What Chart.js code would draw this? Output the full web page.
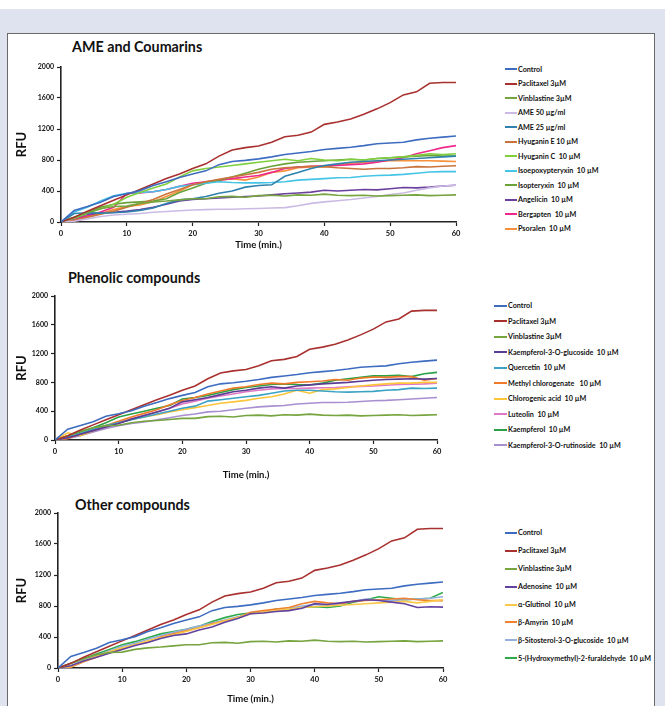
<!DOCTYPE html>
<html>
<head>
<meta charset="utf-8">
<script src="https://cdn.jsdelivr.net/npm/chart.js@4.4.0/dist/chart.umd.min.js"></script>
<style>
body { margin: 0; width: 665px; height: 706px; background: #fff; position: relative; overflow: hidden; font-family: Lato, "Open Sans", sans-serif; }
#band { position: absolute; left: 0; top: 9px; width: 665px; height: 697px; background: #dfe3f0; }
#panel { position: absolute; left: 7px; top: 33px; width: 646px; height: 690px; background: #fff; border: 1px solid #6a6a6a; }
canvas { position: absolute; }
.title { position: absolute; font: bold 14.3px Lato, sans-serif; line-height: 16px; color: #111; white-space: nowrap; }
.legend { position: absolute; font: bold 7.2px Lato, sans-serif; color: #111; }
.legend div { display: flex; align-items: center; white-space: pre; }
.legend .sw { display: inline-block; width: 12px; height: 2px; margin-right: 1px; }
</style>
</head>
<body>
<div id="band"></div>
<div id="panel"></div>

<div class="title" style="left:72px; top:39px;">AME and Coumarins</div>
<canvas id="ame_coumarins" width="472" height="200" style="left:8px; top:57px;"></canvas>
<div class="legend" id="legend1" style="left:505px; top:62px;"></div>

<div class="title" style="left:68px; top:270px;">Phenolic compounds</div>
<canvas id="phenolic" width="455" height="200" style="left:8px; top:286px;"></canvas>
<div class="legend" id="legend2" style="left:494px; top:298px;"></div>

<div class="title" style="left:75px; top:497px;">Other compounds</div>
<canvas id="others" width="460" height="203" style="left:8px; top:503px;"></canvas>
<div class="legend" id="legend3" style="left:505px; top:524px;"></div>

<script>
// time in minutes
const times = [0, 2, 4, 6, 8, 10, 12, 14, 16, 18, 20, 22, 24, 26, 28, 30, 32, 34, 36, 38, 40, 42, 44, 46, 48, 50, 52, 54, 56, 58, 60];

// common series
const control = [0, 150, 200, 255, 330, 365, 405, 470, 520, 575, 620, 660, 740, 780, 795, 815, 840, 870, 890, 910, 935, 950, 965, 985, 1010, 1020, 1030, 1060, 1080, 1095, 1110];
const paclitaxel = [0, 60, 140, 210, 280, 350, 420, 490, 560, 620, 690, 750, 850, 930, 960, 980, 1030, 1100, 1120, 1160, 1260, 1290, 1330, 1390, 1460, 1540, 1640, 1680, 1790, 1800, 1800];
const vinblastine = [0, 60, 120, 170, 200, 205, 240, 260, 270, 285, 300, 300, 325, 330, 320, 340, 345, 335, 350, 345, 360, 345, 340, 345, 335, 340, 345, 350, 340, 345, 350];

// AME and coumarins
const ame50 = [0, 10, 40, 70, 90, 100, 110, 125, 135, 145, 155, 160, 165, 165, 170, 175, 180, 185, 210, 240, 260, 275, 290, 310, 330, 355, 375, 410, 440, 465, 475];
const ame25 = [0, 110, 120, 115, 120, 130, 150, 180, 240, 285, 300, 330, 370, 400, 450, 470, 480, 590, 640, 690, 730, 750, 770, 780, 790, 800, 810, 820, 830, 840, 850];
const hyuganinE = [0, 20, 60, 100, 140, 190, 240, 290, 360, 420, 480, 520, 550, 580, 610, 640, 680, 700, 710, 720, 715, 700, 690, 680, 690, 690, 700, 715, 710, 720, 725];
const hyuganinC = [0, 50, 110, 170, 230, 320, 380, 440, 490, 580, 660, 690, 710, 730, 750, 770, 790, 810, 790, 820, 800, 790, 810, 800, 820, 830, 840, 860, 880, 870, 880];
const isoepoxypteryxin = [0, 130, 190, 270, 340, 370, 380, 390, 420, 460, 480, 500, 520, 510, 505, 505, 510, 520, 540, 550, 560, 570, 575, 590, 600, 605, 615, 630, 645, 650, 650];
const isopteryxin = [0, 60, 130, 190, 230, 250, 260, 270, 300, 380, 440, 500, 540, 580, 630, 680, 720, 750, 770, 780, 790, 800, 810, 800, 820, 830, 840, 850, 860, 850, 850];
const angelicin = [0, 50, 100, 115, 125, 140, 160, 190, 230, 270, 290, 300, 310, 320, 330, 335, 350, 365, 375, 385, 410, 400, 410, 420, 415, 430, 445, 440, 450, 465, 475];
const bergapten = [0, 40, 80, 130, 190, 370, 375, 390, 420, 460, 500, 520, 540, 560, 580, 600, 640, 690, 710, 720, 725, 730, 740, 750, 770, 800, 830, 880, 920, 960, 985];
const psoralen = [0, 30, 70, 110, 160, 200, 220, 260, 330, 400, 480, 510, 540, 560, 540, 580, 640, 660, 700, 710, 710, 740, 760, 770, 780, 790, 790, 790, 790, 785, 780];

// phenolic compounds
const k3glucoside = [0, 30, 80, 130, 180, 230, 290, 340, 390, 440, 530, 560, 590, 630, 670, 690, 720, 740, 720, 750, 765, 780, 790, 800, 815, 830, 840, 845, 850, 845, 855];
const quercetin = [0, 40, 90, 150, 200, 240, 280, 320, 360, 400, 440, 470, 540, 560, 580, 600, 620, 650, 680, 690, 690, 680, 670, 665, 670, 675, 690, 700, 720, 715, 720];
const methylChlorogenate = [0, 20, 80, 140, 200, 260, 320, 370, 420, 490, 550, 590, 640, 680, 720, 740, 770, 790, 780, 800, 810, 820, 840, 830, 860, 875, 870, 880, 880, 830, 855];
const chlorogenicAcid = [0, 100, 60, 130, 190, 240, 290, 320, 350, 390, 420, 450, 480, 510, 530, 550, 580, 600, 640, 690, 650, 700, 710, 730, 750, 765, 780, 790, 790, 800, 800];
const luteolin = [0, 30, 80, 130, 180, 240, 290, 340, 390, 440, 500, 540, 580, 610, 640, 670, 690, 710, 715, 715, 720, 725, 730, 740, 745, 750, 760, 770, 775, 780, 790];
const kaempferol = [0, 50, 110, 170, 240, 320, 360, 400, 440, 480, 570, 590, 620, 660, 700, 730, 750, 770, 780, 770, 765, 790, 830, 850, 870, 890, 890, 900, 880, 920, 940];
const k3rutinoside = [0, 20, 60, 110, 160, 200, 230, 250, 280, 310, 340, 360, 390, 400, 420, 440, 460, 470, 480, 500, 510, 520, 520, 525, 535, 545, 550, 560, 570, 580, 590];

// other compounds
const adenosine = [0, 30, 90, 140, 190, 240, 290, 330, 380, 420, 440, 490, 530, 590, 640, 700, 710, 730, 740, 770, 830, 820, 840, 860, 880, 870, 850, 830, 780, 790, 785];
const glutinol = [0, 20, 90, 150, 210, 260, 300, 350, 390, 430, 470, 520, 560, 610, 650, 700, 720, 740, 760, 780, 790, 800, 810, 820, 830, 840, 850, 860, 840, 860, 880];
const amyrin = [0, 10, 80, 140, 200, 250, 300, 340, 400, 440, 480, 520, 570, 610, 650, 720, 740, 760, 780, 830, 860, 840, 830, 860, 870, 880, 890, 900, 880, 870, 870];
const sitosterol = [0, 30, 100, 160, 220, 280, 320, 370, 420, 460, 500, 540, 580, 620, 660, 700, 720, 740, 770, 800, 820, 800, 830, 860, 890, 880, 870, 880, 890, 900, 920];
const hmf = [0, 60, 120, 180, 240, 300, 340, 390, 440, 470, 500, 540, 600, 650, 690, 710, 720, 760, 750, 780, 790, 780, 800, 850, 880, 920, 900, 880, 890, 900, 975];

const names1 = ['Control', 'Paclitaxel 3µM', 'Vinblastine 3µM', 'AME 50 µg/ml', 'AME 25 µg/ml', 'Hyuganin E 10 µM', 'Hyuganin C  10 µM', 'Isoepoxypteryxin  10 µM', 'Isopteryxin  10 µM', 'Angelicin  10 µM', 'Bergapten  10 µM', 'Psoralen  10 µM'];
const values1 = [control, paclitaxel, vinblastine, ame50, ame25, hyuganinE, hyuganinC, isoepoxypteryxin, isopteryxin, angelicin, bergapten, psoralen];
const colors1 = ['#3d6cc0', '#a8302e', '#76a43e', '#cbbbe4', '#2f82ad', '#c8743c', '#80cf3e', '#44c4e6', '#6aa23a', '#6a3f9e', '#f0288c', '#f7903c'];

const names2 = ['Control', 'Paclitaxel 3µM', 'Vinblastine 3µM', 'Kaempferol-3-O-glucoside  10 µM', 'Quercetin  10 µM', 'Methyl chlorogenate   10 µM', 'Chlorogenic acid  10 µM', 'Luteolin  10 µM', 'Kaempferol  10 µM', 'Kaempferol-3-O-rutinoside  10 µM'];
const values2 = [control, paclitaxel, vinblastine, k3glucoside, quercetin, methylChlorogenate, chlorogenicAcid, luteolin, kaempferol, k3rutinoside];
const colors2 = ['#3d6cc0', '#a8302e', '#76a43e', '#5b3d94', '#3aa2c4', '#f07a2a', '#fcc53a', '#e078c8', '#2ca044', '#a88fd0'];

const names3 = ['Control', 'Paclitaxel 3µM', 'Vinblastine 3µM', 'Adenosine  10 µM', 'α-Glutinol  10 µM', 'β-Amyrin  10 µM', 'β-Sitosterol-3-O-glucoside  10 µM', '5-(Hydroxymethyl)-2-furaldehyde  10 µM'];
const values3 = [control, paclitaxel, vinblastine, adenosine, glutinol, amyrin, sitosterol, hmf];
const colors3 = ['#3d6cc0', '#a8302e', '#76a43e', '#6242a0', '#fcc84a', '#f08232', '#92b0e0', '#2eaa4a'];

Chart.defaults.font.family = 'Lato, "Open Sans", sans-serif';
Chart.defaults.font.weight = 'bold';
Chart.defaults.color = '#111';

function makeChart(id, names, values, colors, yWidth, xHeight, padRight, xTitlePad) {
    return new Chart(document.getElementById(id), {
        type: 'line',
        data: {
            labels: times,
            datasets: names.map((name, i) => ({
                label: name,
                data: values[i],
                borderColor: colors[i],
                backgroundColor: colors[i],
                borderWidth: 1.6,
                pointRadius: 0,
                tension: 0
            }))
        },
        options: {
            responsive: false,
            animation: false,
            devicePixelRatio: 1,
            layout: { padding: { left: 0, right: padRight, top: 10, bottom: 0 } },
            plugins: {
                legend: { display: false },
                tooltip: { enabled: false }
            },
            scales: {
                x: {
                    type: 'linear',
                    min: 0,
                    max: 60,
                    ticks: { stepSize: 10, padding: 3, maxRotation: 0, font: { size: 7.5 } },
                    grid: { drawOnChartArea: false, tickLength: 4, tickColor: '#222', tickWidth: 1.2 },
                    border: { color: '#222', width: 1.6 },
                    title: { display: true, text: 'Time (min.)', font: { size: 9.5 }, padding: { top: 0, bottom: xTitlePad } },
                    afterFit: (scale) => { scale.height = xHeight; }
                },
                y: {
                    min: 0,
                    max: 2000,
                    ticks: { stepSize: 400, padding: 3, font: { size: 7 }, format: { useGrouping: false } },
                    grid: { drawOnChartArea: false, tickLength: 4, tickColor: '#222', tickWidth: 1.2 },
                    border: { color: '#222', width: 1.6 },
                    title: { display: true, text: 'RFU', font: { size: 13 }, padding: { top: 6, bottom: 0 } },
                    afterFit: (scale) => { scale.width = yWidth; }
                }
            }
        }
    });
}

// legend as html list, built from the chart's own legend items
function htmlLegend(chart, id, rowHeight, swatch) {
    const box = document.getElementById(id);
    chart.options.plugins.legend.labels.generateLabels(chart).forEach(item => {
        const row = document.createElement('div');
        row.style.height = rowHeight + 'px';
        const sw = document.createElement('span');
        sw.className = 'sw';
        sw.style.width = swatch + 'px';
        sw.style.background = item.strokeStyle;
        const txt = document.createElement('span');
        txt.textContent = item.text;
        row.appendChild(sw);
        row.appendChild(txt);
        box.appendChild(row);
    });
}

const chart1 = makeChart('ame_coumarins', names1, values1, colors1, 53, 35, 24, 6);
const chart2 = makeChart('phenolic', names2, values2, colors2, 47, 46, 26, 5);
const chart3 = makeChart('others', names3, values3, colors3, 50, 38, 25, 1);

htmlLegend(chart1, 'legend1', 14.5, 12);
htmlLegend(chart2, 'legend2', 15.5, 13);
htmlLegend(chart3, 'legend3', 17.9, 12);
</script>
</body>
</html>
